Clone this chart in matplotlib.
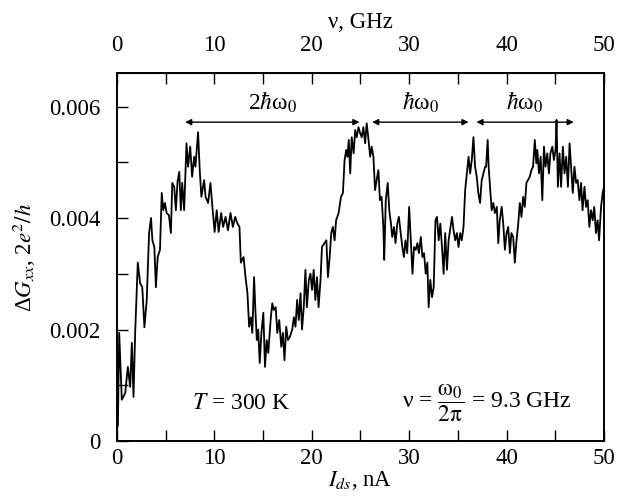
"""Noisy differential conductance vs drain-source current."""

import matplotlib
matplotlib.use("Agg")
import matplotlib.pyplot as plt
from matplotlib.ticker import MultipleLocator, FuncFormatter

plt.rcParams["font.family"] = ["Liberation Serif", "DejaVu Serif"]
plt.rcParams["mathtext.fontset"] = "stix"

# current, nA
ids = [
    0.0, 0.1, 0.23, 0.5, 0.85, 1.12, 1.36, 1.53, 1.7, 1.87, 2.14, 2.38, 2.6, 2.82,
    3.06, 3.3, 3.5, 3.64, 3.84, 4.0, 4.18, 4.42, 4.6, 4.76, 4.93, 5.1, 5.34, 5.54,
    5.68, 5.88, 6.05, 6.22, 6.4, 6.56, 6.7, 6.9, 7.14, 7.3, 7.52, 7.72, 7.93, 8.06,
    8.33, 8.5, 8.67, 8.95, 9.1, 9.36, 9.6, 9.8, 10.03, 10.24, 10.44, 10.7, 10.9,
    11.15, 11.4, 11.66, 11.9, 12.14, 12.35, 12.58,
    12.72, 13.0, 13.2, 13.4, 13.57, 13.74, 13.9, 14.08, 14.2, 14.36, 14.5, 14.66,
    14.83, 15.03, 15.2, 15.38, 15.54, 15.8, 15.95, 16.1, 16.3, 16.46, 16.66, 16.87,
    17.04, 17.2, 17.38, 17.55, 17.76, 18.0, 18.16, 18.33, 18.5, 18.67, 18.85, 19.0,
    19.18, 19.35, 19.5, 19.7, 19.87, 20.03, 20.2, 20.37, 20.54, 20.7, 20.9, 21.05,
    21.3, 21.5, 21.66, 21.84, 22.0, 22.17, 22.35, 22.5, 22.76, 23.0, 23.2, 23.37,
    23.54, 23.67, 23.8, 23.95, 24.1, 24.3, 24.46, 24.62, 24.8, 24.97,
    25.13, 25.3, 25.48, 25.64, 25.8, 26.0, 26.15, 26.33, 26.5, 26.66, 26.84, 27.0,
    27.17, 27.35, 27.44, 27.6, 27.8, 27.96, 28.13, 28.26, 28.44, 28.6, 28.78, 28.95,
    29.1, 29.3, 29.46, 29.62, 29.8, 30.0, 30.17, 30.34, 30.5, 30.68, 30.85, 31.0,
    31.2, 31.36, 31.53, 31.7, 31.87, 32.0, 32.17, 32.35, 32.52, 32.7, 32.86, 33.03,
    33.2, 33.37, 33.54, 33.7, 33.88, 34.05, 34.2, 34.4, 34.56, 34.73, 34.9, 35.07,
    35.24, 35.4, 35.58, 35.75, 35.92, 36.1, 36.26, 36.43, 36.6, 36.77, 36.94, 37.1,
    37.28, 37.45, 37.62, 37.8,
    37.9, 38.06, 38.16, 38.3, 38.47, 38.64, 38.8, 39.0, 39.15, 39.3, 39.5, 39.66,
    39.83, 40.0, 40.17, 40.34, 40.5, 40.68, 40.85, 41.0, 41.2, 41.36, 41.53, 41.7,
    41.87, 42.04, 42.2, 42.38, 42.55, 42.72, 42.9, 43.06, 43.16, 43.33, 43.5, 43.67,
    43.84, 44.0, 44.18, 44.35, 44.5, 44.7, 44.86, 45.03, 45.13, 45.27, 45.44, 45.6,
    45.78, 45.95, 46.12, 46.3, 46.47, 46.63, 46.8, 46.97, 47.14, 47.3, 47.48, 47.65,
    47.8, 48.0, 48.16, 48.33, 48.5, 48.67, 48.84, 49.0, 49.18, 49.35, 49.5, 49.7,
    49.87, 50.0,
]

# conductance change, units of 2e^2/h
dgxx = [
    0.0002, 0.00029, 0.00194, 0.00074, 0.00086, 0.00133, 0.00097, 0.00176, 0.00079,
    0.00194, 0.0032, 0.00283, 0.00276, 0.00204, 0.00253, 0.00373, 0.004, 0.0036,
    0.00348, 0.00276, 0.0033, 0.00343, 0.00445, 0.00414, 0.00427, 0.00409, 0.00405,
    0.00373, 0.00463, 0.00456, 0.00414, 0.00465, 0.00483, 0.00414, 0.00463, 0.00414,
    0.00534, 0.00492, 0.00528, 0.00474, 0.0051, 0.00492, 0.00554, 0.00486, 0.00438,
    0.00468, 0.00438, 0.00427, 0.00463, 0.0042, 0.00375, 0.00414, 0.00375, 0.00409,
    0.00384, 0.00402, 0.00378, 0.00409, 0.00384, 0.00402, 0.00391, 0.00384,
    0.0032, 0.0033, 0.00294, 0.00265, 0.00205, 0.00222, 0.00194, 0.00294, 0.0024,
    0.00181, 0.002, 0.0014, 0.00194, 0.0023, 0.00133, 0.00181, 0.00158, 0.00222,
    0.00247, 0.00235, 0.0024, 0.00194, 0.00217, 0.00169, 0.00194, 0.00145, 0.00205,
    0.00181, 0.00187, 0.002, 0.00222, 0.00205, 0.00253, 0.00217, 0.00265, 0.002,
    0.0024, 0.00307, 0.0024, 0.00289, 0.003, 0.00271, 0.00307, 0.00253, 0.00294,
    0.0024, 0.00289, 0.00348, 0.00355, 0.0036, 0.00294, 0.0033, 0.00373, 0.00384,
    0.0036, 0.00396, 0.00409, 0.00438, 0.00445, 0.00504, 0.00522, 0.0051, 0.0054,
    0.0048, 0.00545, 0.00516, 0.00558, 0.00545, 0.00563, 0.00552,
    0.00545, 0.00563, 0.00534, 0.0057, 0.00545, 0.0051, 0.00528, 0.0051, 0.0045,
    0.00468, 0.00486, 0.00432, 0.00438, 0.00384, 0.00325, 0.00432, 0.00463, 0.00414,
    0.0039, 0.00366, 0.00384, 0.00355, 0.0039, 0.00402, 0.00378, 0.00348, 0.0033,
    0.0036, 0.00337, 0.0042, 0.0036, 0.003, 0.00348, 0.00343, 0.00355, 0.00337,
    0.00366, 0.0033, 0.00337, 0.003, 0.0032, 0.0024, 0.00289, 0.00258, 0.00276,
    0.00396, 0.00402, 0.0036, 0.0039, 0.00348, 0.003, 0.00373, 0.00307, 0.0036,
    0.00378, 0.00402, 0.00378, 0.0036, 0.00373, 0.00348, 0.00373, 0.0036, 0.00384,
    0.0045, 0.0048, 0.0051, 0.0048, 0.00504, 0.00545, 0.00492, 0.00474, 0.00445,
    0.00427, 0.00468, 0.0048, 0.00492,
    0.00492, 0.0054, 0.00492, 0.00456, 0.00414, 0.00427, 0.00409, 0.0042, 0.00355,
    0.00396, 0.0042, 0.0039, 0.00343, 0.00373, 0.00384, 0.00337, 0.00373, 0.00366,
    0.0032, 0.00355, 0.0039, 0.00427, 0.00402, 0.00438, 0.0042, 0.00463, 0.00468,
    0.00474, 0.00486, 0.00492, 0.0054, 0.00498, 0.00522, 0.0048, 0.0051, 0.00432,
    0.00528, 0.00492, 0.00516, 0.0048, 0.00516, 0.00528, 0.00504, 0.00522, 0.00576,
    0.00456, 0.00516, 0.00456, 0.00528, 0.0048, 0.0051, 0.00456, 0.00534, 0.00492,
    0.00445, 0.00492, 0.00463, 0.00468, 0.00432, 0.00463, 0.00414, 0.00456, 0.0042,
    0.00432, 0.00384, 0.00414, 0.00396, 0.0042, 0.00373, 0.00396, 0.0036, 0.0042,
    0.00445, 0.00456,
]

# energy-spacing arrows
arrow_starts = [7.0, 26.2, 36.9]
arrow_ends = [24.9, 36.1, 46.9]
arrow_labels = [r"2$\hbar$ω$_0$", r"$\hbar$ω$_0$", r"$\hbar$ω$_0$"]
arrow_level = 0.00572

FS = 16.5

fig = plt.figure(figsize=(6.22, 5.04), dpi=100)
ax = fig.add_axes([0.188, 0.125, 0.783, 0.730])
ax.plot(ids, dgxx, color="black", linewidth=1.3)

ax.set_xlim(0, 50)
ax.set_ylim(0, 0.0066)
ax.xaxis.set_major_locator(MultipleLocator(10))
ax.xaxis.set_minor_locator(MultipleLocator(5))
ax.yaxis.set_major_locator(MultipleLocator(0.002))
ax.yaxis.set_minor_locator(MultipleLocator(0.001))
ax.yaxis.set_major_formatter(FuncFormatter(lambda v, _: "0" if v == 0 else f"{v:.3f}"))
ax.tick_params(which="both", direction="in", length=8, width=1.0, labelsize=FS,
               right=False, top=False)
ax.tick_params(axis="x", pad=5)
ax.tick_params(axis="y", pad=12)
for spine in ax.spines.values():
    spine.set_linewidth(1.4)

ax.set_xlabel(r"$I_{ds}$, nA", fontsize=FS, labelpad=0)
ax.set_ylabel(r"Δ$G_{xx}$, 2$e^2/h$", fontsize=FS, labelpad=8)

top = ax.secondary_xaxis("top")
top.xaxis.set_major_locator(MultipleLocator(10))
top.xaxis.set_minor_locator(MultipleLocator(5))
top.tick_params(which="both", direction="in", length=8, width=1.0, labelsize=FS, pad=12)
top.set_xlabel("ν, GHz", fontsize=FS, labelpad=5)

for x0, x1, lab in zip(arrow_starts, arrow_ends, arrow_labels):
    ax.annotate("", xy=(x0, arrow_level), xytext=(x1, arrow_level),
                arrowprops=dict(arrowstyle="<|-|>", color="black", lw=1.0,
                                mutation_scale=9, shrinkA=0, shrinkB=0))
    ax.text((x0 + x1) / 2, arrow_level + 0.00012, lab, ha="center", va="bottom",
            fontsize=FS + 0.5)

ax.text(12.8, 0.00068, r"$T$ = 300 K", ha="center", va="center", fontsize=FS + 0.5)
ax.text(38.0, 0.00068, r"ν = $\dfrac{\mathrm{ω}_0}{2\mathrm{π}}$ = 9.3 GHz",
        ha="center", va="center", fontsize=FS + 0.5)

fig.savefig("out.png", dpi=100)
